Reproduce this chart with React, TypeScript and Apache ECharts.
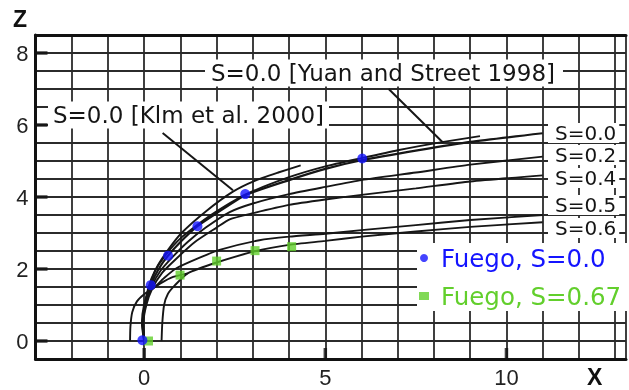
import React, { useEffect, useRef } from 'react';
import * as echarts from 'echarts';

// ---- data (x, z) ----
const xLabelValues = [0, 5, 10];
const yLabelValues = [0, 2, 4, 6, 8];

const curveS00 = [[0, 0], [-0.06, 0.5], [0.0, 1.0], [0.18, 1.55], [0.4, 2.0], [0.66, 2.37], [1.0, 2.75], [1.47, 3.19], [2.0, 3.55], [2.79, 4.05], [4.0, 4.47], [5.0, 4.78], [6.0, 5.02], [7.58, 5.3], [9.0, 5.53], [11.0, 5.77]];
const curveYuan = [[0, 0], [-0.05, 0.5], [0.02, 1.0], [0.12, 1.5], [0.3, 1.95], [0.6, 2.4], [1.0, 2.85], [1.5, 3.25], [2.0, 3.6], [2.8, 4.07], [4.0, 4.55], [5.0, 4.85], [6.0, 5.08], [7.0, 5.3], [8.26, 5.53], [9.27, 5.69]];
const curveKim = [[0, 0], [-0.04, 0.5], [0.02, 1.0], [0.14, 1.5], [0.35, 2.05], [0.66, 2.53], [1.03, 3.0], [1.7, 3.6], [2.45, 4.15], [3.05, 4.45], [3.7, 4.68], [4.32, 4.88]];
const curveS02 = [[0, 0], [-0.03, 0.5], [0.04, 1.0], [0.2, 1.5], [0.45, 1.95], [0.8, 2.35], [1.2, 2.75], [1.7, 3.15], [2.36, 3.58], [3.0, 3.82], [4.0, 4.08], [5.0, 4.28], [6.0, 4.47], [7.5, 4.68], [9.0, 4.9], [11.0, 5.12]];
const curveS04 = [[0, 0], [-0.02, 0.5], [0.06, 1.0], [0.22, 1.45], [0.5, 1.9], [0.9, 2.3], [1.4, 2.75], [2.0, 3.15], [2.36, 3.38], [3.0, 3.55], [4.0, 3.78], [5.0, 3.93], [6.0, 4.06], [7.5, 4.24], [9.0, 4.43], [11.0, 4.6]];
const curveS05 = [[-0.39, 0.0], [-0.38, 0.4], [-0.33, 0.8], [-0.2, 1.1], [0.0, 1.3], [0.25, 1.46], [0.55, 1.75], [0.89, 2.02], [1.5, 2.3], [2.08, 2.53], [3.18, 2.8], [4.0, 2.9], [5.0, 2.98], [6.0, 3.08], [7.5, 3.22], [9.0, 3.36], [11.0, 3.5]];
const curveS06 = [[0.48, 0.0], [0.5, 0.5], [0.55, 1.0], [0.65, 1.3], [0.85, 1.55], [1.2, 1.88], [2.0, 2.18], [3.09, 2.5], [4.0, 2.67], [5.0, 2.78], [6.0, 2.9], [7.5, 3.04], [9.0, 3.17], [11.0, 3.3]];
const curveJoin = [[0.15, 1.4], [0.45, 1.6], [0.8, 1.78], [1.2, 1.88]];

const leaderYuan = [[6.75, 7.0], [8.26, 5.5]];
const leaderKim = [[0.51, 5.78], [2.45, 4.19]];

const fuegoS00 = [[-0.05, 0.02], [0.18, 1.55], [0.66, 2.37], [1.47, 3.19], [2.79, 4.08], [6.02, 5.07]];
const fuegoS067 = [[0.12, 0.0], [0.99, 1.83], [2.0, 2.22], [3.06, 2.51], [4.07, 2.62]];

const curveLabels = ['S=0.0', 'S=0.2', 'S=0.4', 'S=0.5', 'S=0.6'];
const yuanLabel = 'S=0.0 [Yuan and Street 1998]';
const kimLabel = 'S=0.0 [Klm et al. 2000]';
const legendNames = ['Fuego, S=0.0', 'Fuego, S=0.67'];

const BLUE = '#1414ff';
const GREEN = '#62cf2c';
const INK = '#161616';
const FONT = '"DejaVu Sans", sans-serif';
const AXFONT = '"Liberation Sans", Arial, sans-serif';

export default function App() {
  const ref = useRef<HTMLDivElement>(null);
  useEffect(() => {
    const chart = echarts.init(ref.current!, null, { renderer: 'svg' });
    const line = (name: string, data: number[][], width = 1.9) => ({
      type: 'line', name, data, showSymbol: false, symbol: 'none', smooth: 0.2,
      lineStyle: { color: INK, width }, silent: true, z: 3, clip: true,
    });
    const labelY = [133, 155, 178, 205, 228];
    chart.setOption({
      animation: false,
      grid: { left: 35.5, right: 0, top: 35, bottom: 31 },
      xAxis: [
        {
          type: 'value', min: -3, max: 13.3, interval: 1,
          axisLine: { show: true, onZero: false, lineStyle: { color: '#111', width: 3 } },
          axisTick: { show: false },
          splitLine: { show: true, lineStyle: { color: '#2b2b2b', width: 1.8 } },
          axisLabel: {
            margin: 7, fontSize: 22, fontFamily: AXFONT, color: '#222',
            formatter: (v: number) => (xLabelValues.includes(v) ? String(v) : ''),
          },
        },
        {
          type: 'value', position: 'top', min: -3, max: 13.3, interval: 1,
          axisLine: { show: true, onZero: false, lineStyle: { color: '#111', width: 3 } },
          axisTick: { show: false }, splitLine: { show: false }, axisLabel: { show: false },
        },
      ],
      yAxis: {
        type: 'value', min: -0.5, max: 8.5, interval: 0.5,
        axisLine: { show: true, onZero: false, lineStyle: { color: '#111', width: 3 } },
        axisTick: { show: false },
        splitLine: { show: true, lineStyle: { color: '#2b2b2b', width: 1.8 } },
        axisLabel: {
          margin: 7, fontSize: 22, fontFamily: AXFONT, color: '#222',
          formatter: (v: number) => (yLabelValues.includes(v) ? String(v) : ''),
        },
      },
      legend: {
        data: [
          { name: legendNames[0], icon: 'circle', textStyle: { color: BLUE } },
          { name: legendNames[1], icon: 'rect', textStyle: { color: GREEN } },
        ],
        orient: 'vertical', left: 417, top: 243,
        backgroundColor: '#fff', padding: [2, 20, 2, 2],
        itemWidth: 10, itemHeight: 8, itemGap: 12,
        textStyle: { fontFamily: FONT, fontSize: 24.5, lineHeight: 26, padding: [0, 0, 0, 7] },
        selectedMode: false,
      },
      series: [
        line('S=0.0', curveS00, 2.2),
        line('Yuan', curveYuan),
        line('Kim', curveKim),
        line('S=0.2', curveS02),
        line('S=0.4', curveS04),
        line('S=0.5', curveS05),
        line('S=0.6', curveS06),
        line('join', curveJoin),
        { ...line('leaderYuan', leaderYuan, 2), smooth: false, clip: false },
        { ...line('leaderKim', leaderKim, 2), smooth: false, clip: false },
        {
          type: 'scatter', name: legendNames[0], data: fuegoS00, symbol: 'circle', symbolSize: 10,
          itemStyle: { color: BLUE }, z: 6, clip: false,
        },
        {
          type: 'scatter', name: legendNames[1], data: fuegoS067, symbol: 'rect', symbolSize: 9,
          itemStyle: { color: GREEN }, z: 5, clip: false,
        },
        {
          type: 'scatter', name: 'xticks', data: xLabelValues.map((v) => [v, -0.5]), symbol: 'rect',
          symbolSize: [3.5, 11], symbolOffset: [0, -5.5], itemStyle: { color: '#111' }, z: 4, clip: false, silent: true,
        },
        {
          type: 'scatter', name: 'yticks', data: yLabelValues.map((v) => [-3, v]), symbol: 'rect',
          symbolSize: [12, 3.5], symbolOffset: [6, 0], itemStyle: { color: '#111' }, z: 4, clip: false, silent: true,
        },
      ],
      graphic: [
        { type: 'text', x: 13, y: 19, z: 20, style: { text: 'Z', fontSize: 23, fontWeight: 'bold', fontFamily: AXFONT, fill: '#111', verticalAlign: 'middle' } },
        { type: 'text', x: 587, y: 377, z: 20, style: { text: 'X', fontSize: 23, fontWeight: 'bold', fontFamily: AXFONT, fill: '#111', verticalAlign: 'middle' } },
        {
          type: 'text', x: 205, y: 73, z: 20,
          style: { text: yuanLabel, fontSize: 23, fontFamily: FONT, fill: '#151515', verticalAlign: 'middle', backgroundColor: '#fff', padding: [2, 8, 2, 6] },
        },
        {
          type: 'text', x: 48, y: 115, z: 20,
          style: { text: kimLabel, fontSize: 23, fontFamily: FONT, fill: '#151515', verticalAlign: 'middle', backgroundColor: '#fff', padding: [2, 5, 2, 5] },
        },
        ...curveLabels.map((t, i) => ({
          type: 'text', x: 548, y: labelY[i], z: 20,
          style: { text: t, fontSize: 20, fontFamily: FONT, fill: '#151515', verticalAlign: 'middle', backgroundColor: '#fff', padding: [0, 3, 0, 7] },
        })),
      ],
    });
    return () => chart.dispose();
  }, []);
  return <div ref={ref} style={{ position: 'fixed', left: 0, top: 0, width: 629, height: 390 }} />;
}
